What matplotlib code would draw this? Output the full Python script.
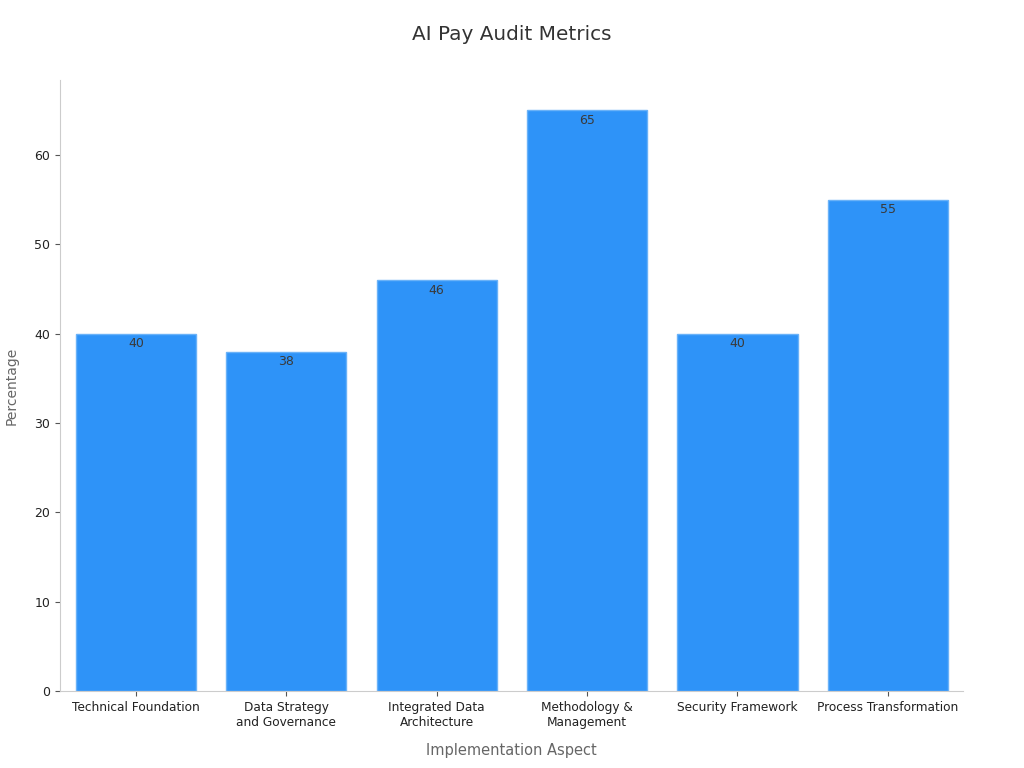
import matplotlib.pyplot as plt

# Données du graphique
categories = ['Technical Foundation', 'Data Strategy\nand Governance', 'Integrated Data\nArchitecture',
              'Methodology &\nManagement', 'Security Framework', 'Process Transformation']
values = [40, 38, 46, 65, 40, 55]

fig = plt.figure(figsize=(10.24, 7.68), dpi=100)
ax = fig.add_axes([0.0586, 0.100, 0.8818, 0.796])

bars = ax.bar(range(len(categories)), values, width=0.8, color='#2E93F8',
              edgecolor='#6AB2F8', linewidth=1)

for b, v in zip(bars, values):
    ax.text(b.get_x() + b.get_width() / 2, v - 0.4, str(v), ha='center', va='top',
            fontsize=9, color='#3A3A3A')

ax.set_xticks(range(len(categories)))
ax.set_xticklabels(categories, fontsize=8.7, color='#222222')
ax.set_xlim(-0.505, 5.5)
ax.set_ylim(0, 68.4)
ax.set_yticks([0, 10, 20, 30, 40, 50, 60])
ax.tick_params(axis='y', labelsize=9, labelcolor='#222222', color='#555555')
ax.tick_params(axis='x', color='#555555')

for s in ['top', 'right']:
    ax.spines[s].set_visible(False)
for s in ['left', 'bottom']:
    ax.spines[s].set_color('#CCCCCC')

ax.set_xlabel('Implementation Aspect', fontsize=10.5, color='#666666', labelpad=10)
ax.set_ylabel('Percentage', fontsize=10, color='#666666', labelpad=11)
fig.suptitle('AI Pay Audit Metrics', fontsize=14.4, color='#333333', y=0.968)

plt.savefig('out.png', dpi=100)
